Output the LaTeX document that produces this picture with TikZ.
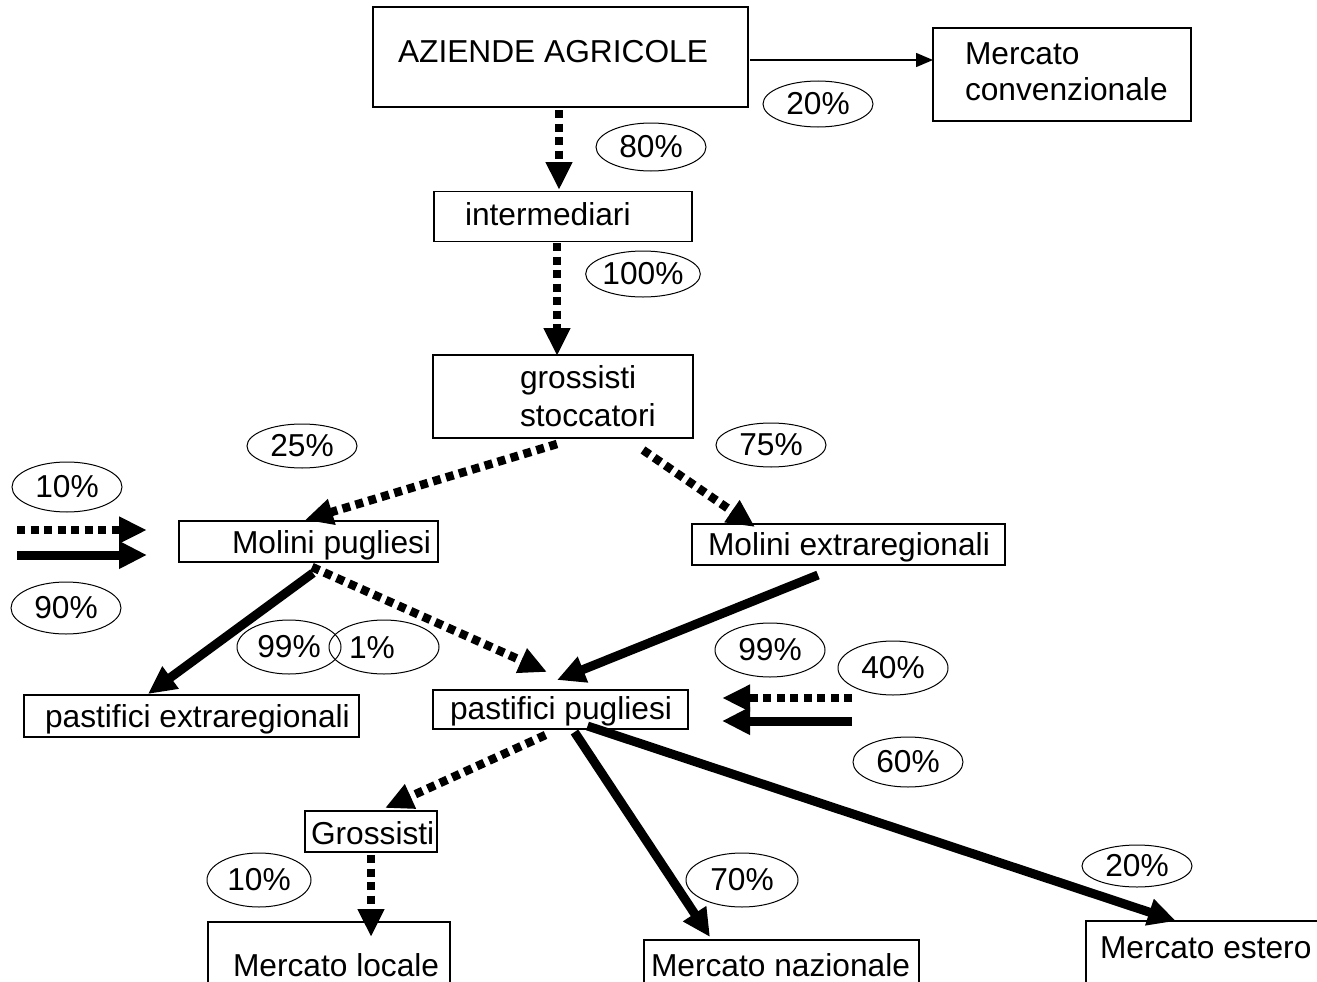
\documentclass[tikz,border=0pt]{standalone}
\usepackage{fontspec}
\setmainfont{Liberation Sans}
\usetikzlibrary{arrows.meta,shapes.geometric,calc}
\newcommand{\bigfnt}{\fontsize{31.7pt}{38pt}\selectfont}
\tikzset{
  box/.style={draw, line width=1.5pt, inner sep=0pt, outer sep=0pt, rectangle},
  txt/.style={anchor=base west, inner sep=0pt, outer sep=0pt, font=\bigfnt},
  pct/.style={draw, ellipse, line width=1pt, inner sep=0pt, outer sep=0pt, font=\bigfnt, minimum width=110pt, minimum height=50pt},
  dotarrow/.style={line width=8.5pt, dash pattern=on 8pt off 5.5pt, -{Triangle[width=25pt,length=28pt]}},
  solidarrow/.style={line width=9pt, -{Triangle[width=26pt,length=28pt]}},
  thinarrow/.style={line width=1.5pt, -{Triangle[width=14pt,length=17pt]}}
}
\begin{document}
\begin{tikzpicture}[x=1pt,y=-1pt]
\useasboundingbox (0,0) rectangle (1317,982);
\clip (0,0) rectangle (1317,982);
\fill[white] (0,0) rectangle (1317,982);
% boxes
\node[box, minimum width=375pt, minimum height=100pt] (az) at (560.5,57) {};
\node[box, minimum width=258pt, minimum height=93pt] (mc) at (1062,74.5) {};
\node[box, minimum width=258pt, minimum height=50pt] (im) at (563,216.5) {};
\node[box, minimum width=260pt, minimum height=83pt] (gs) at (563,396.5) {};
\node[box, minimum width=259pt, minimum height=41pt] (mp) at (308.5,541.5) {};
\node[box, minimum width=313pt, minimum height=41pt] (me) at (848.5,544.5) {};
\node[box, minimum width=335pt, minimum height=42pt] (pe) at (191.5,716) {};
\node[box, minimum width=255pt, minimum height=39pt] (pp) at (560.5,709.5) {};
\node[box, minimum width=132pt, minimum height=41pt] (gr) at (371,831.5) {};
\node[box, minimum width=242pt, minimum height=80pt] (ml) at (329,962) {};
\node[box, minimum width=275pt, minimum height=64pt] (mn) at (781.5,972) {};
\node[box, minimum width=268pt, minimum height=82pt] (mest) at (1220,962) {};
% texts
\node[txt] (taz) at (398,63) {AZIENDE AGRICOLE};
\node[txt] (tmc1) at (965,65) {Mercato};
\node[txt] (tmc2) at (965,100) {convenzionale};
\node[txt] (tim) at (465,225) {intermediari};
\node[txt] (tgs1) at (520,388) {grossisti};
\node[txt] (tgs2) at (520,426) {stoccatori};
\node[txt] (tmp) at (232,553) {Molini pugliesi};
\node[txt] (tme) at (708,555) {Molini extraregionali};
\node[txt] (tpe) at (45,727) {pastifici extraregionali};
\node[txt] (tpp) at (450,719) {pastifici pugliesi};
\node[txt] (tgr) at (311,844) {Grossisti};
\node[txt] (tml) at (233,976) {Mercato locale};
\node[txt] (tmn) at (651,976) {Mercato nazionale};
\node[txt] (tmest) at (1100,958) {Mercato estero};
% percentages
\node[pct, minimum height=46pt] (p20a) at (818,104) {20\%};
\node[pct, minimum height=48pt] (p80) at (651,147) {80\%};
\node[pct, minimum height=46pt] (p100) at (643,274) {100\%};
\node[pct, minimum height=44pt] (p25) at (302,446) {25\%};
\node[pct, minimum height=44pt] (p75) at (771,445) {75\%};
\node[pct] (p10a) at (67,487) {10\%};
\node[pct, minimum height=52pt] (p90) at (66,608) {90\%};
\node[pct, minimum width=104pt, minimum height=54pt] (p99a) at (289,647) {99\%};
\node[pct, minimum height=54pt] (p1) at (384,647) {};
\node[txt, anchor=center] (t1) at (372,648) {1\%};
\node[pct, minimum height=54pt] (p99b) at (770,650) {99\%};
\node[pct, minimum height=54pt] (p40) at (893,668) {40\%};
\node[pct] (p60) at (908,762) {60\%};
\node[pct, minimum width=104pt, minimum height=54pt] (p10b) at (259,880) {10\%};
\node[pct, minimum width=112pt, minimum height=54pt] (p70) at (742,880) {70\%};
\node[pct, minimum height=42pt] (p20b) at (1137,866) {20\%};
% free ends
\coordinate (in10) at (17,530);
\coordinate (in90) at (17,555);
\coordinate (in40) at (852,698);
\coordinate (in60) at (852,721);
% connectors
\draw[thinarrow] ($(az.east)+(2,3)$) -- ($(mc.west)+(0,-14.5)$);
\draw[dotarrow] ($(az.south)+(-1.5,3)$) -- ($(im.north)+(-4,-1.5)$);
\draw[dotarrow] ($(im.south)+(-6,1.5)$) -- ($(gs.north)+(-6,1)$);
\draw[dotarrow] ($(gs.south)+(-6,6)$) -- ($(mp.north)+(-3.5,-1)$);
\draw[dotarrow] ($(gs.south)+(80,12)$) -- ($(me.north)+(-93.5,3)$);
\draw[dotarrow] (in10) -- ($(mp.west)+(-32,-11.5)$);
\draw[solidarrow] (in90) -- ($(mp.west)+(-32,13.5)$);
\draw[solidarrow] ($(mp.south)+(4.5,11)$) -- ($(pe.north)+(-43.5,-1)$);
\draw[dotarrow] ($(mp.south)+(3.5,5)$) -- ($(pp.north)+(-13.5,-18)$);
\draw[solidarrow] ($(me.south)+(-30.5,10)$) -- ($(pp.north)+(-3.5,-10)$);
\draw[dotarrow] (in40) -- ($(pp.east)+(34,-11.5)$);
\draw[solidarrow] (in60) -- ($(pp.east)+(34,11.5)$);
\draw[dotarrow] ($(pp.south)+(-15,6)$) -- ($(gr.north)+(14,-3)$);
\draw[dotarrow] ($(gr.south)+(0,3)$) -- ($(ml.north)+(42,15)$);
\draw[solidarrow] ($(pp.south)+(14,3)$) -- ($(mn.north)+(-71.5,-3)$);
\draw[solidarrow] ($(pp.south)+(27,-3)$) -- ($(mest.north)+(-44,0)$);
\end{tikzpicture}
\end{document}
